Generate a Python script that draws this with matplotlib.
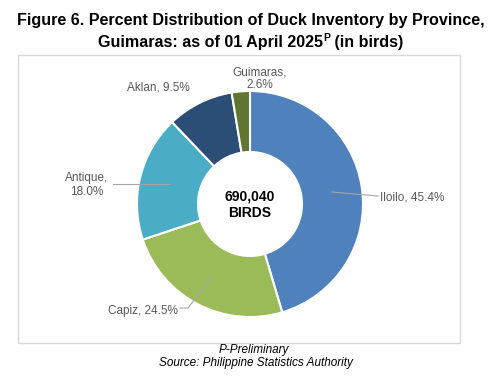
import matplotlib
matplotlib.use('Agg')
import matplotlib.pyplot as plt
from matplotlib.patches import Rectangle

plt.rcParams['font.family'] = ['Liberation Sans', 'DejaVu Sans']

# data
provinces = ['Iloilo', 'Capiz', 'Antique', 'Aklan', 'Guimaras']
shares = [45.4, 24.5, 18.0, 9.5, 2.6]
colors = ['#4F81BD', '#9BBB59', '#4BACC6', '#2C4D75', '#5F7530']
total_birds = '690,040'

fig = plt.figure(figsize=(5.02, 3.79), dpi=100)
ax = fig.add_axes([0, 0, 1, 1])

# frame around the chart area
ax.add_patch(Rectangle((18, 55), 442, 288, fill=False, edgecolor='#D9D9D9', linewidth=1))

# y axis points down, so counterclock in data = clockwise on screen
cx, cy, R = 250, 204, 113
ax.pie(shares, colors=colors, startangle=-90, counterclock=True, center=(cx, cy), radius=R,
       wedgeprops=dict(width=R - 52, edgecolor='white', linewidth=1.5), frame=True)
ax.set_xlim(0, 502)
ax.set_ylim(379, 0)
ax.set_aspect('equal')
ax.axis('off')

grey = '#595959'
fs = 8.5
# labels and leader lines
ax.plot([332, 378], [192, 196], color='#A6A6A6', lw=0.8)
ax.text(380, 197, 'Iloilo, 45.4%', color=grey, fontsize=fs, ha='left', va='center')
ax.plot([212, 188, 180], [277, 308, 308], color='#A6A6A6', lw=0.8)
ax.text(178, 311, 'Capiz, 24.5%', color=grey, fontsize=fs, ha='right', va='center')
ax.plot([113, 170], [184, 184], color='#A6A6A6', lw=0.8)
ax.text(87, 185, 'Antique,\n18.0%', color=grey, fontsize=fs, ha='center', va='center',
        linespacing=1.3)
ax.text(158, 87, 'Aklan, 9.5%', color=grey, fontsize=fs, ha='center', va='center')
ax.text(260, 79, 'Guimaras,\n2.6%', color=grey, fontsize=fs, ha='center', va='center',
        linespacing=1.1)

ax.text(cx, 205, total_birds + '\nBIRDS', fontsize=10, fontweight='bold', ha='center',
        va='center', linespacing=1.2)

tfs = 11.6
ax.text(251, 20, 'Figure 6. Percent Distribution of Duck Inventory by Province,',
        fontsize=tfs, fontweight='bold', ha='center', va='center')

# second title line with a small superscript P
parts = ['Guimaras: as of 01 April 2025', 'P', ' (in birds)']
sizes = [tfs, 7.5, tfs]
renderer = fig.canvas.get_renderer()
widths = []
for p, s in zip(parts, sizes):
    t = ax.text(0, 0, p, fontsize=s, fontweight='bold')
    widths.append(t.get_window_extent(renderer).width)
    t.remove()
x = 251 - sum(widths) / 2
ax.text(x, 43, parts[0], fontsize=tfs, fontweight='bold', ha='left', va='center')
ax.text(x + widths[0], 38, parts[1], fontsize=7.5, fontweight='bold', ha='left', va='center')
ax.text(x + widths[0] + widths[1], 43, parts[2], fontsize=tfs, fontweight='bold',
        ha='left', va='center')

ax.text(254, 350, 'P-Preliminary', fontsize=8.5, style='italic', ha='center', va='center')
ax.text(256, 363, 'Source: Philippine Statistics Authority', fontsize=8.5, style='italic',
        ha='center', va='center')

fig.savefig('out.png', dpi=100)
